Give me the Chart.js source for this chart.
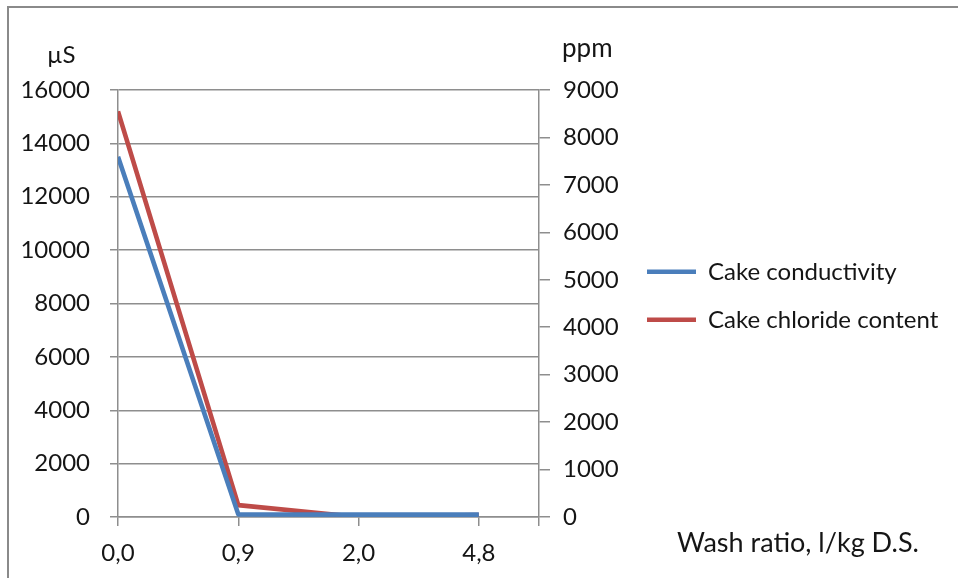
<!DOCTYPE html>
<html>
<head>
<meta charset="utf-8">
<script src="https://cdn.jsdelivr.net/npm/chart.js@4"></script>
<style>
  html, body { margin: 0; padding: 0; background: #fff; }
  #wrap { width: 958px; height: 578px; }
</style>
</head>
<body>
<div id="wrap"><canvas id="myChart" width="958" height="578"></canvas></div>
<script>
// data
const categories = ['0,0', '0,9', '2,0', '4,8'];
const conductivity = [13500, 100, 90, 90];   // µS, left axis
const chloride = [8550, 250, 0, 40];         // ppm, right axis
const leftTicks = [0, 2000, 4000, 6000, 8000, 10000, 12000, 14000, 16000];
const rightTicks = [0, 1000, 2000, 3000, 4000, 5000, 6000, 7000, 8000, 9000];

const gridCol = '#8e8e8e';
const txtCol = '#151515';

Chart.defaults.font.family = 'Lato';
Chart.defaults.font.size = 24;
Chart.defaults.color = txtCol;

// frame, free texts (axis units, x title) and legend placement
const extras = {
  id: 'extras',
  afterUpdate(chart) {
    // legend sits right of the y1 labels, not glued to the canvas edge
    const lg = chart.legend;
    const newLeft = 623;
    const dx = newLeft - lg.left;
    lg.legendHitBoxes.forEach(h => { h.left += dx; });
    lg.left = newLeft;
    lg.right = 958;
    lg.width = lg.right - lg.left;
  },
  afterDraw(chart) {
    const c = chart.ctx;
    c.save();
    c.fillStyle = '#8a8a8a';
    c.fillRect(7, 6, 951, 2);
    c.fillRect(7, 6, 2, 572);
    c.fillStyle = txtCol;
    c.textBaseline = 'alphabetic';
    c.textAlign = 'left';
    c.font = '24px Lato';
    c.fillText('µS', 47, 63);
    c.font = '26px Lato';
    c.fillText('ppm', 562, 57);
    c.font = '27px Lato';
    c.fillText('Wash ratio, l/kg D.S.', 677, 552);
    c.restore();
  }
};

const toPoints = arr => arr.map((v, i) => ({ x: i, y: v }));

var ctx = document.getElementById('myChart').getContext('2d');
var myChart = new Chart(ctx, {
  type: 'line',
  data: {
    datasets: [{
      label: 'Cake conductivity',
      data: toPoints(conductivity),
      yAxisID: 'y',
      borderColor: '#4a7ebb',
      backgroundColor: '#4a7ebb',
      borderWidth: 4.6,
      borderJoinStyle: 'round',
      pointRadius: 0,
      tension: 0
    }, {
      label: 'Cake chloride content',
      data: toPoints(chloride),
      yAxisID: 'y1',
      borderColor: '#be4b48',
      backgroundColor: '#be4b48',
      borderWidth: 4.6,
      borderJoinStyle: 'round',
      pointRadius: 0,
      tension: 0
    }]
  },
  options: {
    responsive: false,
    animation: false,
    layout: { padding: { left: 0, top: 90, right: 0, bottom: 0 } },
    plugins: {
      tooltip: { enabled: false },
      legend: {
        position: 'right',
        fullSize: false,
        align: 'start',
        maxWidth: 120,
        title: { display: true, text: '', padding: { top: 117, bottom: 0 } },
        labels: {
          usePointStyle: true,
          pointStyle: 'line',
          pointStyleWidth: 49,
          padding: 24,
          color: txtCol,
          font: { size: 24 }
        }
      }
    },
    scales: {
      x: {
        type: 'linear',
        min: 0,
        max: 3.5,
        afterBuildTicks: axis => { axis.ticks = [0, 1, 2, 3, 3.5].map(v => ({ value: v })); },
        afterFit: s => { s.height = 61; },
        ticks: {
          autoSkip: false,
          maxRotation: 0,
          padding: 13,
          callback: v => categories[v] !== undefined ? categories[v] : ''
        },
        grid: { drawOnChartArea: false, drawTicks: true, tickLength: 9, color: gridCol, lineWidth: 1.5 },
        border: { display: true, color: gridCol, width: 1.5 }
      },
      y: {
        position: 'left',
        min: 0,
        max: 16000,
        afterBuildTicks: axis => { axis.ticks = leftTicks.map(v => ({ value: v })); },
        afterFit: s => { s.width = 118; },
        ticks: { padding: 20, callback: v => String(v) },
        grid: { color: gridCol, lineWidth: 1.5, tickLength: 8 },
        border: { display: true, color: gridCol, width: 1.5 }
      },
      y1: {
        position: 'right',
        min: 0,
        max: 9000,
        afterBuildTicks: axis => { axis.ticks = rightTicks.map(v => ({ value: v })); },
        afterFit: s => { s.width = 299; },
        ticks: { padding: 13, callback: v => String(v) },
        grid: { drawOnChartArea: false, color: gridCol, lineWidth: 1.5, tickLength: 11 },
        border: { display: true, color: gridCol, width: 1.5 }
      }
    }
  },
  plugins: [extras]
});
</script>
</body>
</html>
